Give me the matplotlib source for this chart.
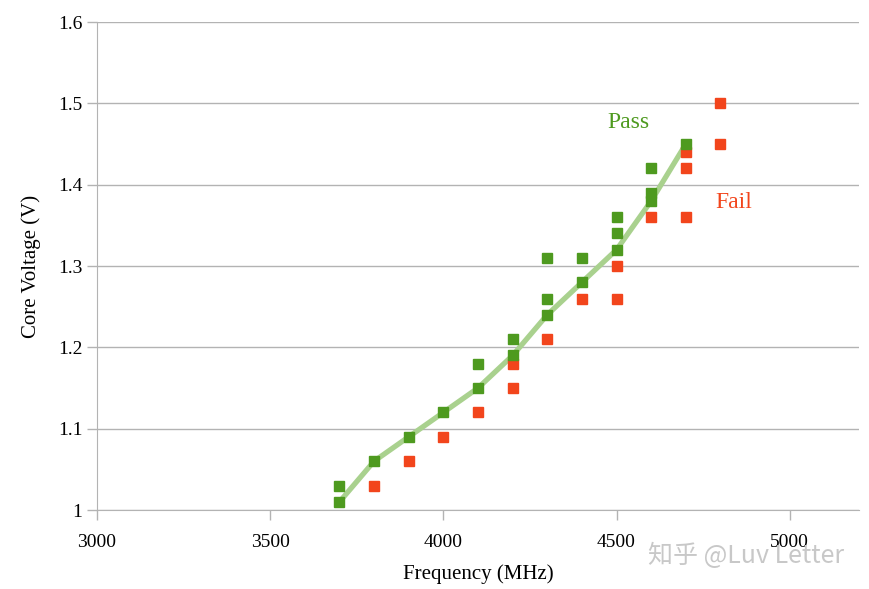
import matplotlib.pyplot as plt

plt.rcParams['font.family'] = ['Liberation Serif', 'DejaVu Serif']

# 通过的测试点
pass_freq = [3700, 3700, 3800, 3900, 4000, 4100, 4100, 4200, 4200,
             4300, 4300, 4300, 4400, 4400, 4500, 4500, 4500,
             4600, 4600, 4600, 4700]
pass_volt = [1.03, 1.01, 1.06, 1.09, 1.12, 1.18, 1.15, 1.21, 1.19,
             1.31, 1.26, 1.24, 1.31, 1.28, 1.36, 1.34, 1.32,
             1.42, 1.39, 1.38, 1.45]

# 失败的测试点
fail_freq = [3800, 3900, 4000, 4100, 4200, 4200, 4300, 4400,
             4500, 4500, 4600, 4700, 4700, 4700, 4800, 4800]
fail_volt = [1.03, 1.06, 1.09, 1.12, 1.18, 1.15, 1.21, 1.26,
             1.30, 1.26, 1.36, 1.44, 1.42, 1.36, 1.50, 1.45]

# 最低稳定电压曲线
min_freq = [3700, 3800, 3900, 4000, 4100, 4200, 4300, 4400, 4500, 4600, 4700]
min_volt = [1.01, 1.06, 1.09, 1.12, 1.15, 1.19, 1.24, 1.28, 1.32, 1.38, 1.45]

green = '#4e9a1f'
red = '#f2451c'
grey = '#b3b3b3'

fig = plt.figure(figsize=(8.69, 5.89), dpi=100)
ax = fig.add_axes([0.1116, 0.1341, 0.8769, 0.8285])

ax.plot(min_freq, min_volt, color='#a9d18e', linewidth=3.8, zorder=2,
        solid_capstyle='round')
ax.plot(fail_freq, fail_volt, 's', color=red, markersize=7, zorder=3)
ax.plot(pass_freq, pass_volt, 's', color=green, markersize=7, zorder=4)

ax.set_xlim(3000, 5200)
ax.set_ylim(1, 1.6)
ax.set_xticks([3000, 3500, 4000, 4500, 5000])
ax.set_yticks([1, 1.1, 1.2, 1.3, 1.4, 1.5, 1.6])
ax.set_yticklabels(['1', '1.1', '1.2', '1.3', '1.4', '1.5', '1.6'])

ax.yaxis.grid(True, color=grey, linewidth=1)
ax.set_axisbelow(True)
for side in ['top', 'right']:
    ax.spines[side].set_visible(False)
for side in ['left', 'bottom']:
    ax.spines[side].set_color(grey)
ax.tick_params(axis='both', colors=grey, labelcolor='black', labelsize=14,
               length=7, width=1)
ax.tick_params(axis='x', pad=10)

ax.set_xlabel('Frequency (MHz)', fontsize=15, labelpad=10)
ax.set_ylabel('Core Voltage (V)', fontsize=15, labelpad=12)

ax.text(4535, 1.476, 'Pass', color=green, fontsize=17, ha='center', va='center')
ax.text(4838, 1.378, 'Fail', color=red, fontsize=17, ha='center', va='center')

# 水印
fig.text(0.858, 0.056, '知乎 @Luv Letter', color='#c8c8c8', fontsize=18,
         ha='center', va='center', family=['Noto Sans CJK SC', 'DejaVu Sans'])

plt.savefig('out.png', dpi=100)
